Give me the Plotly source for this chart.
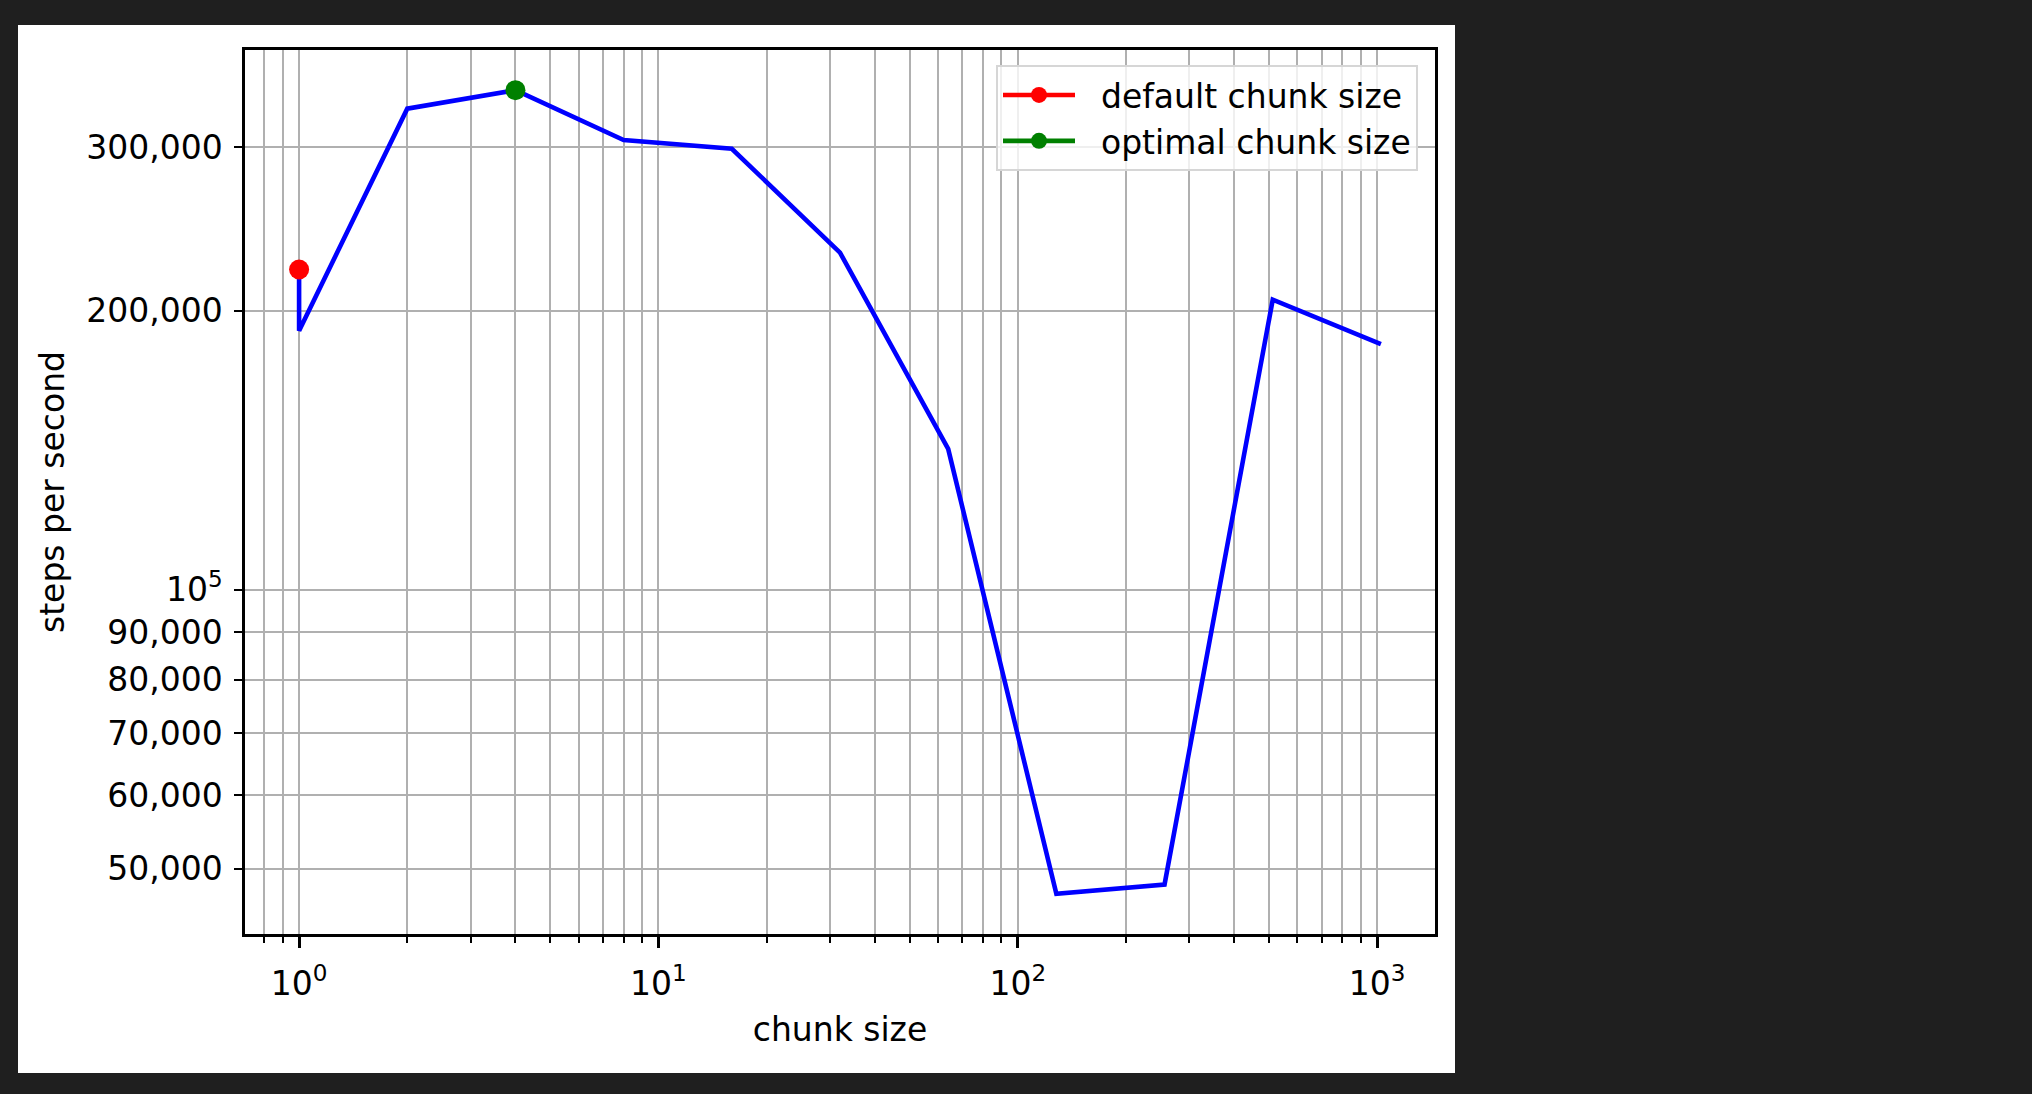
import math
import plotly.graph_objects as go

# ---- data ----
chunk_sizes = [1, 1, 2, 4, 8, 16, 32, 64, 128, 256, 512, 1024]
steps_per_second = [221500, 190300, 330300, 345800, 305500, 299000,
                    231000, 141900, 47000, 48100, 205500, 184100]

default_chunk = [1]
default_steps = [221500]
optimal_chunk = [4]
optimal_steps = [345800]

legend_names = ["default chunk size", "optimal chunk size"]

x_major_vals = [1, 10, 100, 1000]
x_major_text = ["10<sup>0</sup>", "10<sup>1</sup>", "10<sup>2</sup>", "10<sup>3</sup>"]
x_minor_vals = [0.8, 0.9, 2, 3, 4, 5, 6, 7, 8, 9,
                20, 30, 40, 50, 60, 70, 80, 90,
                200, 300, 400, 500, 600, 700, 800, 900]

y_tick_vals = [50000, 60000, 70000, 80000, 90000, 100000, 200000, 300000]
y_tick_text = ["50,000", "60,000", "70,000", "80,000", "90,000",
               "10<sup>5</sup>", "200,000", "300,000"]

# ---- layout constants ----
W, H = 2032, 1094
PL, PR, PT, PB = 245, 1435, 50, 934  # plot area in pixels
FONT = "DejaVu Sans"
FS = 33
GRID = "#b0b0b0"
GAP = "\u00a0\u00a0"  # small gap between legend handle and label

# matplotlib-like 5% margins on log axes
all_x = chunk_sizes
all_y = steps_per_second + default_steps + optimal_steps
lx0, lx1 = math.log10(min(all_x)), math.log10(max(all_x))
ly0, ly1 = math.log10(min(all_y)), math.log10(max(all_y))
mx = 0.05 * (lx1 - lx0)
my = 0.05 * (ly1 - ly0)

fig = go.Figure()
fig.add_trace(go.Scatter(x=chunk_sizes, y=steps_per_second, mode="lines",
                         line=dict(color="#0000ff", width=4.6), showlegend=False))
fig.add_trace(go.Scatter(x=default_chunk, y=default_steps, mode="lines+markers",
                         name=GAP + legend_names[0],
                         line=dict(color="#ff0000", width=4.6),
                         marker=dict(color="#ff0000", size=20)))
fig.add_trace(go.Scatter(x=optimal_chunk, y=optimal_steps, mode="lines+markers",
                         name=GAP + legend_names[1],
                         line=dict(color="#008000", width=4.6),
                         marker=dict(color="#008000", size=20)))

pw, ph = PR - PL, PB - PT
def px_x(p):
    return (p - PL) / pw
def px_y(p):
    return (PB - p) / ph

# white figure panel on dark page
fig.add_shape(type="rect", xref="paper", yref="paper",
              x0=px_x(18), x1=px_x(1455), y0=px_y(1073), y1=px_y(25),
              fillcolor="white", line=dict(width=0), layer="below")

fig.update_layout(
    width=W, height=H, autosize=False,
    margin=dict(l=PL, r=W - PR, t=PT, b=H - PB, pad=0),
    paper_bgcolor="#1f1f1f",
    plot_bgcolor="white",
    font=dict(family=FONT, size=FS, color="black"),
    showlegend=True,
    legend=dict(
        x=px_x(1418), y=px_y(65), xanchor="right", yanchor="top",
        bgcolor="rgba(255,255,255,0.8)", bordercolor="#d6d6d6", borderwidth=2,
        font=dict(family=FONT, size=FS, color="black"),
        itemwidth=72, tracegroupgap=0,
    ),
    xaxis=dict(
        type="log", range=[lx0 - mx, lx1 + mx],
        tickmode="array", tickvals=x_major_vals, ticktext=x_major_text,
        ticks="outside", ticklen=11, tickwidth=2.5, tickcolor="black",
        ticklabelstandoff=8,
        showgrid=True, gridcolor=GRID, gridwidth=2,
        showline=True, linecolor="black", linewidth=2.5, mirror=True,
        zeroline=False,
        minor=dict(tickmode="array", tickvals=x_minor_vals, ticks="outside",
                   ticklen=6.5, tickwidth=2, tickcolor="black",
                   showgrid=True, gridcolor=GRID, gridwidth=2),
        title=dict(text="chunk size", font=dict(family=FONT, size=FS), standoff=16),
        tickfont=dict(family=FONT, size=FS),
    ),
    yaxis=dict(
        type="log", range=[ly0 - my, ly1 + my],
        tickmode="array", tickvals=y_tick_vals, ticktext=y_tick_text,
        ticks="outside", ticklen=8, tickwidth=2.2, tickcolor="black",
        ticklabelstandoff=5,
        showgrid=True, gridcolor=GRID, gridwidth=2,
        showline=True, linecolor="black", linewidth=2.5, mirror=True,
        zeroline=False,
        title=dict(text="steps per second", font=dict(family=FONT, size=FS), standoff=12),
        tickfont=dict(family=FONT, size=FS),
    ),
)

fig.write_html(
    "out.html",
    config={"displayModeBar": False},
    post_script="document.body.style.margin='0';document.body.style.background='#1f1f1f';document.body.style.overflow='hidden';",
)
